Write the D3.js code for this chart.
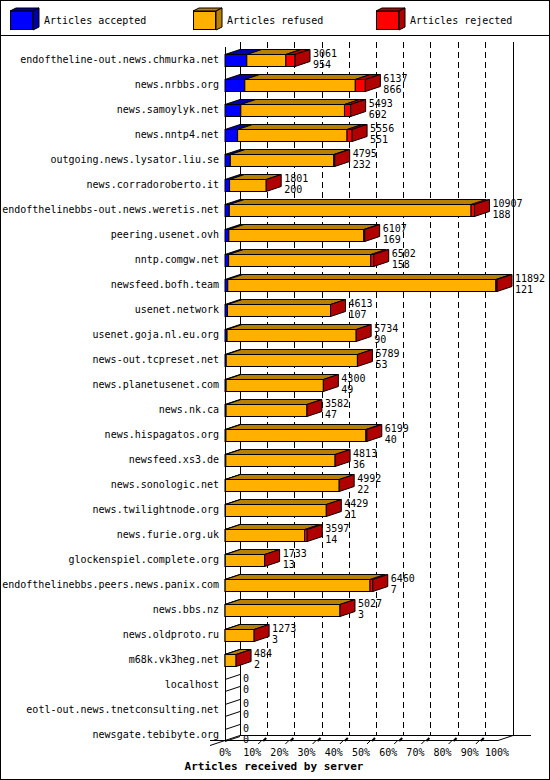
<!DOCTYPE html>
<html><head><meta charset="utf-8">
<script src="https://cdn.jsdelivr.net/npm/d3@7"></script>
<style>body{margin:0;background:#fff}svg{display:block}</style>
</head><body><svg id="c" width="550" height="780"></svg>
<script>
const servers=["endoftheline-out.news.chmurka.net","news.nrbbs.org","news.samoylyk.net","news.nntp4.net","outgoing.news.lysator.liu.se","news.corradoroberto.it","endofthelinebbs-out.news.weretis.net","peering.usenet.ovh","nntp.comgw.net","newsfeed.bofh.team","usenet.network","usenet.goja.nl.eu.org","news-out.tcpreset.net","news.planetusenet.com","news.nk.ca","news.hispagatos.org","newsfeed.xs3.de","news.sonologic.net","news.twilightnode.org","news.furie.org.uk","glockenspiel.complete.org","endofthelinebbs.peers.news.panix.com","news.bbs.nz","news.oldproto.ru","m68k.vk3heg.net","localhost","eotl-out.news.tnetconsulting.net","newsgate.tebibyte.org"];
const offered=[3061,6137,5493,5556,4795,1801,10907,6107,6502,11892,4613,5734,5789,4300,3582,6199,4813,4992,4429,3597,1733,6460,5027,1273,484,0,0,0];
const accepted=[954,866,692,551,232,200,188,169,158,121,107,90,53,49,47,40,36,22,21,14,13,7,3,3,2,0,0,0];
const rejected=[400,440,270,220,40,0,150,40,130,50,0,0,0,0,0,40,0,0,0,120,0,120,0,0,0,0,0,0];
const ticks=["0%","10%","20%","30%","40%","50%","60%","70%","80%","90%","100%"];
const svg=d3.select("#c"),F="'DejaVu Sans Mono',monospace";
const DX=15,DY=-5;
const x=d3.scaleLinear().domain([0,d3.max(offered)]).range([225,497]);
const xp=d3.scaleLinear().domain([0,100]).range([225,497]);
const y=d3.scaleBand().domain(servers).range([47,747]);
const cols=[["#0000ff","#0000a8"],["#ffb000","#b88000"],["#ff0000","#b00000"]];
svg.append("rect").attr("x",0.5).attr("y",0.5).attr("width",549).attr("height",779).attr("fill","#fff").attr("stroke","#000");
svg.append("line").attr("x1",0).attr("x2",550).attr("y1",35.5).attr("y2",35.5).attr("stroke","#000");
// legend
const leg=["Articles accepted","Articles refused","Articles rejected"],lx=[10,193,376];
leg.forEach((t,i)=>{const g=svg.append("g"),X=lx[i];
 g.append("path").attr("d",`M${X},11L${X+6},8L${X+29},8L${X+23},11Z`).attr("fill",cols[i][1]).attr("stroke","#000");
 g.append("path").attr("d",`M${X+23},11L${X+29},8L${X+29},27L${X+23},30Z`).attr("fill",cols[i][1]).attr("stroke","#000");
 g.append("rect").attr("x",X+0.5).attr("y",11.5).attr("width",22).attr("height",18).attr("fill",cols[i][0]).attr("stroke","#000");
 g.append("text").attr("x",X+34).attr("y",24).attr("font-family",F).attr("font-size",10).text(t);});
// back plane + grid
const grid=svg.append("g");
grid.append("line").attr("x1",240.5).attr("x2",240.5).attr("y1",42).attr("y2",735).attr("stroke","#000");
grid.append("line").attr("x1",513.5).attr("x2",513.5).attr("y1",42).attr("y2",735).attr("stroke","#000");
d3.range(1,10).forEach(i=>grid.append("line").attr("x1",Math.round(xp(i*10)+DX)+.5).attr("x2",Math.round(xp(i*10)+DX)+.5).attr("y1",42).attr("y2",735).attr("stroke","#000").attr("stroke-dasharray","6,4"));
grid.append("line").attr("x1",240).attr("x2",531).attr("y1",735.5).attr("y2",735.5).attr("stroke","#000");
grid.append("line").attr("x1",210).attr("x2",498).attr("y1",740.5).attr("y2",740.5).attr("stroke","#000");
grid.append("line").attr("x1",498).attr("x2",513).attr("y1",740.5).attr("y2",735.5).attr("stroke","#000");
grid.append("line").attr("x1",210).attr("x2",225).attr("y1",745.5).attr("y2",740.5).attr("stroke","#000");
grid.append("line").attr("x1",225).attr("x2",240).attr("y1",740.5).attr("y2",735.5).attr("stroke","#000");
ticks.forEach((t,i)=>{const X=xp(i*10);
 if(i>0&&i<10){grid.append("line").attr("x1",X+6).attr("x2",X+9).attr("y1",744).attr("y2",741).attr("stroke","#000");
  grid.append("line").attr("x1",X+11).attr("x2",X+14).attr("y1",741).attr("y2",738).attr("stroke","#000").attr("stroke-width",2);}
 svg.append("text").attr("x",X).attr("y",756).attr("text-anchor","middle").attr("font-family",F).attr("font-size",10).text(t);});
svg.append("line").attr("x1",225.5).attr("x2",225.5).attr("y1",47).attr("y2",741).attr("stroke","#000");
// bars
servers.forEach((s,i)=>{const c=y(s)+y.bandwidth()/2,top=c-5,bot=c+7;
 svg.append("text").attr("x",219).attr("y",c+3.5).attr("text-anchor","end").attr("font-family",F).attr("font-size",10).text(s);
 const segs=[accepted[i],offered[i]-accepted[i]-rejected[i],rejected[i]];
 let a=0;const g=svg.append("g");
 const x1=x(offered[i]);
 if(offered[i]===0){
  g.append("line").attr("x1",225).attr("y1",top).attr("x2",225+DX).attr("y2",top+DY).attr("stroke","#000");
  g.append("line").attr("x1",225).attr("y1",bot).attr("x2",225+DX).attr("y2",bot+DY).attr("stroke","#000");
 } else {
 segs.forEach((v,k)=>{if(v<=0)return;const xa=x(a),xb=x(a+v);a+=v;
  g.append("path").attr("d",`M${xa},${top}L${xa+DX},${top+DY}L${xb+DX},${top+DY}L${xb},${top}Z`).attr("fill",cols[k][1]).attr("stroke","#000").attr("stroke-width",k===0||v>200?1:0.5);
  g.append("rect").attr("x",xa).attr("y",top).attr("width",xb-xa).attr("height",bot-top).attr("fill",cols[k][0]).attr("stroke","#000").attr("stroke-width",1);});
 const lk=rejected[i]>0?2:1;
 g.append("path").attr("d",`M${x1},${top}L${x1+DX},${top+DY}L${x1+DX},${bot+DY}L${x1},${bot}Z`).attr("fill",cols[2][1]).attr("stroke","#000");
 }
 const tx=x1+DX+3;
 svg.append("text").attr("x",tx).attr("y",c-3).attr("font-family",F).attr("font-size",10).text(offered[i]);
 svg.append("text").attr("x",tx).attr("y",c+8).attr("font-family",F).attr("font-size",10).text(accepted[i]);
});
svg.append("text").attr("x",274).attr("y",770).attr("text-anchor","middle").attr("font-family",F).attr("font-size",11).attr("font-weight","bold").text("Articles received by server");
</script></body></html>
